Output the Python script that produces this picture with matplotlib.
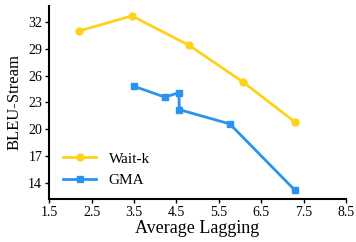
import matplotlib
matplotlib.use("Agg")
import matplotlib.pyplot as plt

waitk_al = [2.2, 3.45, 4.8, 6.07, 7.3]
waitk_bleu = [31.0, 32.7, 29.4, 25.3, 20.8]

gma_al = [3.51, 4.23, 4.56, 4.57, 5.76, 7.29]
gma_bleu = [24.8, 23.6, 24.1, 22.2, 20.6, 13.2]

xticks = [1.5, 2.5, 3.5, 4.5, 5.5, 6.5, 7.5, 8.5]
yticks = [14, 17, 20, 23, 26, 29, 32]

plt.rcParams['font.family'] = ['Liberation Serif', 'DejaVu Serif']

fig = plt.figure(figsize=(3.56, 2.42), dpi=100)
ax = fig.add_axes([0.138, 0.178, 0.834, 0.797])

ax.plot(waitk_al, waitk_bleu, color='#FFD21A', marker='o', markersize=5,
        linewidth=2, label='Wait-k')
ax.plot(gma_al, gma_bleu, color='#2A93F0', marker='s', markersize=5,
        linewidth=2, label='GMA')

ax.set_xlim(1.5, 8.5)
ax.set_ylim(12.2, 33.8)
ax.set_xticks(xticks)
ax.set_xticklabels([str(t) for t in xticks])
ax.set_yticks(yticks)
ax.tick_params(labelsize=10, length=3, width=1, pad=2)

for side in ['top', 'right']:
    ax.spines[side].set_visible(False)
for side in ['left', 'bottom']:
    ax.spines[side].set_linewidth(1.5)

ax.set_xlabel('Average Lagging', fontsize=13, labelpad=1)
ax.set_ylabel('BLEU-Stream', fontsize=12, labelpad=4)

ax.legend(loc='lower left', frameon=False, fontsize=11, handlelength=2.2,
          labelspacing=0.5, bbox_to_anchor=(0.0, -0.01))

fig.savefig('out.png', dpi=100)
